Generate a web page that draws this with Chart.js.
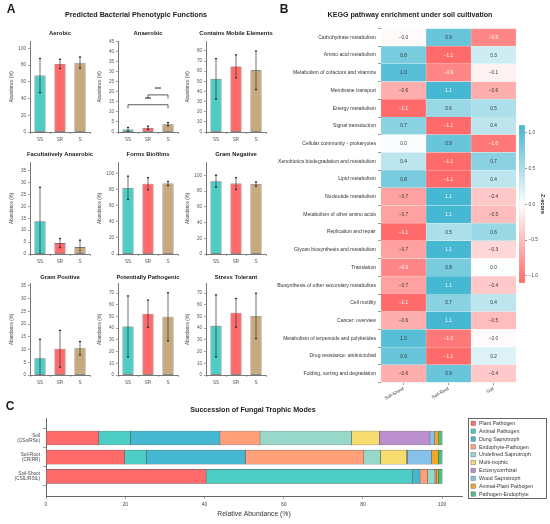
<!DOCTYPE html>
<html>
<head>
<meta charset="utf-8">
<script src="https://cdn.jsdelivr.net/npm/chart.js@4.4.0/dist/chart.umd.min.js"></script>
<style>
  body { margin: 0; background: #fff; }
  #fig { position: relative; width: 550px; height: 524px; overflow: hidden; background: #fff; }
  #fig canvas { position: absolute; }
</style>
</head>
<body>
<div id="fig"></div>
<script>
// ---- Panel A: predicted bacterial phenotypes ----
const groups = ["SS", "SR", "S"];
const groupColors = ["#4ECDC4", "#FF6B6B", "#C8A97E"];
const traitNames = [
  "Aerobic", "Anaerobic", "Contains Mobile Elements",
  "Facultatively Anaerobic", "Forms Biofilms", "Gram Negative",
  "Gram Positive", "Potentially Pathogenic", "Stress Tolerant"
];
const traitMeans = [
  [67.5, 81.5, 83], [1.3, 2.1, 3.9], [52.4, 64.7, 60.8],
  [13.8, 4.6, 2.9], [82, 87, 87.3], [92.5, 89.5, 89],
  [6.6, 10.3, 10.5], [41.5, 52.4, 49.8], [42, 53.2, 50.5]
];
const traitSd = [
  [20.5, 5.5, 6.8], [1.0, 0.8, 0.8], [20, 11.3, 19],
  [14.2, 1.9, 2.9], [14.4, 7.5, 2.5], [7.6, 7.6, 2.7],
  [7.4, 7.2, 2.6], [26.1, 11.6, 20.6], [26.5, 12.2, 19.4]
];
const traitYMax = [108, 45, 89, 38.3, 113, 116, 35.8, 78, 78];
const traitYStep = [20, 5, 10, 5, 20, 20, 5, 10, 10];
// significance brackets on the Anaerobic panel (group index from/to, bracket height)
const anaerobicSig = [
  { from: 0, to: 2, level: 13.6, label: "***" },
  { from: 1, to: 2, level: 18.5, label: "***" }
];

// ---- Panel B: KEGG z-scores ----
const pathways = [
  "Carbohydrate metabolism", "Amino acid metabolism", "Metabolism of cofactors and vitamins",
  "Membrane transport", "Energy metabolism", "Signal transduction",
  "Cellular community - prokaryotes", "Xenobiotics biodegradation and metabolism", "Lipid metabolism",
  "Nucleotide metabolism", "Metabolism of other amino acids", "Replication and repair",
  "Glycan biosynthesis and metabolism", "Translation", "Biosynthesis of other secondary metabolites",
  "Cell motility", "Cancer: overview", "Metabolism of terpenoids and polyketides",
  "Drug resistance: antimicrobial", "Folding, sorting and degradation"
];
const cultivations = ["Soil-Shoot", "Soil-Root", "Soil"];
const zShoot = [-0.04, 0.8, 1.0, -0.6, -1.1, 0.7, 0.03, 0.4, 0.8, -0.7, -0.7, -1.1, -0.7, -0.9, -0.7, -1.1, -0.6, 1.0, 0.9, -0.6];
const zRoot = [0.9, -1.1, -0.9, 1.1, 0.6, -1.1, 0.9, -1.1, -1.1, 1.1, 1.1, 0.5, 1.1, 0.8, 1.1, 0.7, 1.1, -1.0, -1.1, 0.9];
const zSoil = [-0.9, 0.3, -0.1, -0.6, 0.5, 0.4, -1.0, 0.7, 0.4, -0.4, -0.5, 0.6, -0.3, 0.02, -0.4, 0.4, -0.5, -0.03, 0.2, -0.4];
const zTicks = [-1.0, -0.5, 0.0, 0.5, 1.0];
const zMin = -1.1, zMax = 1.11;

// ---- Panel C: fungal trophic modes ----
const fungalRows = [["Soil", "(CSo/RSo)"], ["Soil-Root", "(CR/RR)"], ["Soil-Shoot", "(CSIL/RSIL)"]];
const trophicModes = [
  "Plant Pathogen", "Animal Pathogen", "Dung Saprotroph", "Endophyte-Pathogen", "Undefined Saprotroph",
  "Multi-trophic", "Ectomycorrhizal", "Wood Saprotroph", "Animal-Plant Pathogen", "Pathogen-Endophyte"
];
const trophicColors = ["#FF6B6B", "#4ECDC4", "#45B7D1", "#FFA07A", "#98D8C8",
                       "#F7DC6F", "#BB8FCE", "#85C1E9", "#F5A623", "#52BE80"];
const soilShares = [13.3, 8.0, 22.6, 10.1, 23.1, 7.0, 12.8, 1.2, 1.0, 0.9];
const rootShares = [19.8, 5.5, 25.0, 29.9, 4.2, 6.6, 0.2, 6.1, 1.7, 1.0];
const shootShares = [40.4, 52.1, 1.9, 1.9, 1.7, 0.2, 0.1, 0.2, 0.5, 1.0];
const xTicksC = [0, 20, 40, 60, 80, 100];

// ---------------------------------------------------------------
const FONT = "'Liberation Sans', Arial, sans-serif";
Chart.defaults.font.family = FONT;
Chart.defaults.color = "#444";
Chart.defaults.animation = false;
Chart.defaults.responsive = false;
Chart.defaults.plugins.legend.display = false;
Chart.defaults.plugins.tooltip.enabled = false;

const fig = document.getElementById("fig");

const makeCanvas = (left, top, w, h) => {
  const c = document.createElement("canvas");
  c.width = w; c.height = h;
  c.style.left = left + "px"; c.style.top = top + "px";
  c.style.width = w + "px"; c.style.height = h + "px";
  fig.appendChild(c);
  return c;
};

// headings go on one overlay canvas, drawn at the end
const headings = [];
const addText = (txt, cx, cy, size) => headings.push({ txt, cx, cy, size });

const minus = v => (v < 0 ? "\u2212" : "") + Math.abs(v).toFixed(1);

// error bars: mean +/- sd, clipped at zero
const errorBars = {
  id: "errorBars",
  afterDatasetsDraw(chart) {
    const ds = chart.data.datasets[0];
    const y = chart.scales.y;
    const ctx = chart.ctx;
    ctx.save();
    ctx.strokeStyle = "#333";
    chart.getDatasetMeta(0).data.forEach((bar, i) => {
      const m = ds.data[i], s = ds.sd[i];
      const top = y.getPixelForValue(m + s);
      const low = m - s;
      const bot = y.getPixelForValue(Math.max(0, low));
      ctx.lineWidth = 0.7;
      ctx.beginPath(); ctx.moveTo(bar.x, top); ctx.lineTo(bar.x, bot); ctx.stroke();
      ctx.lineWidth = 1.3;
      const caps = low > 0 ? [top, bot] : [top];
      caps.forEach(p => {
        ctx.beginPath(); ctx.moveTo(bar.x - 1.1, p); ctx.lineTo(bar.x + 1.1, p); ctx.stroke();
      });
    });
    ctx.restore();
  }
};

const sigBrackets = items => ({
  id: "sigBrackets",
  afterDatasetsDraw(chart) {
    const { ctx, scales: { x, y } } = chart;
    ctx.save();
    ctx.strokeStyle = "#333"; ctx.fillStyle = "#222"; ctx.lineWidth = 0.8;
    ctx.font = "bold 5px " + FONT;
    ctx.textAlign = "center"; ctx.textBaseline = "middle";
    items.forEach(b => {
      const x1 = x.getPixelForValue(b.from), x2 = x.getPixelForValue(b.to);
      const yh = y.getPixelForValue(b.level);
      ctx.beginPath();
      ctx.moveTo(x1, yh + 3.5); ctx.lineTo(x1, yh); ctx.lineTo(x2, yh); ctx.lineTo(x2, yh + 3.5);
      ctx.stroke();
      ctx.fillText(b.label, (x1 + x2) / 2, yh - 5.5);
    });
    ctx.restore();
  }
});

// ---------------- Panel A ----------------
addText("A", 11, 10, 12);
addText("Predicted Bacterial Phenotypic Functions", 136, 15, 7.2);

const colAxisX = [30, 118, 206];
const rowTop = [41, 162, 283];
const rowBottom = [132, 254, 375];
const rowTitleY = [33, 154, 277];

traitNames.forEach((name, t) => {
  const r = Math.floor(t / 3), c = t % 3;
  const plotH = rowBottom[r] - rowTop[r];
  const cv = makeCanvas(colAxisX[c] - 30, rowTop[r] - 4, 92, plotH + 18);
  addText(name, colAxisX[c] + 30, rowTitleY[r], 5.9);

  const plugins = [errorBars];
  if (name === "Anaerobic") plugins.push(sigBrackets(anaerobicSig));

  new Chart(cv, {
    type: "bar",
    data: {
      labels: groups,
      datasets: [{
        data: traitMeans[t],
        sd: traitSd[t],
        backgroundColor: groupColors,
        borderColor: "#333",
        borderWidth: 0.6,
        borderSkipped: false,
        barPercentage: 0.55,
        categoryPercentage: 1
      }]
    },
    options: {
      layout: { padding: { top: 4, right: 2, left: 0, bottom: 0 } },
      scales: {
        x: {
          grid: { display: true, drawOnChartArea: false, tickLength: 2, color: "#666", lineWidth: 0.6 },
          border: { display: true, color: "#555", width: 0.8 },
          ticks: { font: { size: 4.6 }, color: "#555", padding: 2.5 },
          afterFit: s => { s.height = 14; }
        },
        y: {
          min: 0,
          max: traitYMax[t],
          grid: { display: true, drawOnChartArea: false, tickLength: 2, color: "#666", lineWidth: 0.6 },
          border: { display: true, color: "#555", width: 0.8 },
          ticks: { stepSize: traitYStep[t], includeBounds: false, autoSkip: false,
                   font: { size: 4.6 }, color: "#555", padding: 2 },
          title: { display: true, text: "Abundance (%)", font: { size: 4.5 }, color: "#444",
                   padding: { top: 9, bottom: 0 } },
          afterFit: s => { s.width = 30; }
        }
      }
    },
    plugins
  });
});

// ---------------- Panel B ----------------
addText("B", 284, 10, 12);
addText("KEGG pathway enrichment under soil cultivation", 410, 15, 7.1);

const zColor = v => {
  const t = v < 0 ? Math.min(1, -v / 1.1) : Math.min(1, v / 1.11);
  const end = v < 0 ? [255, 107, 107] : [69, 183, 209];
  const c = end.map(e => Math.round(255 + (e - 255) * t));
  return `rgb(${c[0]},${c[1]},${c[2]})`;
};

const cellLabels = {
  id: "cellLabels",
  afterDatasetsDraw(chart) {
    const ctx = chart.ctx;
    ctx.save();
    ctx.font = "4.7px " + FONT;
    ctx.textAlign = "center"; ctx.textBaseline = "middle";
    chart.data.datasets.forEach((ds, k) => {
      chart.getDatasetMeta(k).data.forEach((bar, i) => {
        const v = ds.zValues[i];
        ctx.fillStyle = (v <= -0.85 || v >= 1.05) ? "#fff" : "#333";
        ctx.fillText(minus(v), (bar.x + bar.base) / 2, bar.y + 0.3);
      });
    });
    ctx.restore();
  }
};

const zCols = [zShoot, zRoot, zSoil];
const heatCanvas = makeCanvas(270, 20, 250, 385);
new Chart(heatCanvas, {
  type: "bar",
  data: {
    labels: pathways,
    datasets: cultivations.map((name, k) => ({
      label: name,
      data: pathways.map(() => 1),
      zValues: zCols[k],
      backgroundColor: zCols[k].map(zColor),
      borderColor: "rgba(255,255,255,0.6)",
      borderWidth: 0.4,
      borderSkipped: false,
      barPercentage: 1,
      categoryPercentage: 1
    }))
  },
  options: {
    indexAxis: "y",
    layout: { padding: { top: 8.5, right: 4, left: 0, bottom: 0 } },
    scales: {
      x: {
        type: "linear", min: 0, max: 3, stacked: true,
        afterBuildTicks: s => { s.ticks = [0.5, 1.5, 2.5].map(v => ({ value: v })); },
        grid: { display: true, drawOnChartArea: false, tickLength: 2.5, color: "#555", lineWidth: 0.6 },
        border: { display: false },
        ticks: { callback: v => cultivations[Math.floor(v)], minRotation: 30, maxRotation: 30,
                 autoSkip: false, font: { size: 4.6 }, color: "#333", padding: 1 },
        afterFit: s => { s.height = 22.5; }
      },
      y: {
        stacked: true,
        grid: { display: true, drawOnChartArea: false, tickLength: 3, color: "#555", lineWidth: 0.6 },
        border: { display: false },
        ticks: { autoSkip: false, font: { size: 5.05 }, color: "#333", padding: 2 },
        afterFit: s => { s.width = 111; }
      }
    }
  },
  plugins: [cellLabels]
});

// colorbar
const cbCanvas = makeCanvas(505, 112, 45, 185);
new Chart(cbCanvas, {
  type: "bar",
  data: {
    labels: ["Z-score"],
    datasets: [{
      data: [[zMin, zMax]],
      backgroundColor: c => {
        const ch = c.chart;
        if (!ch.chartArea) return "#fff";
        const y = ch.scales.y;
        const g = ch.ctx.createLinearGradient(0, y.getPixelForValue(zMin), 0, y.getPixelForValue(zMax));
        g.addColorStop(0, zColor(zMin));
        g.addColorStop((0 - zMin) / (zMax - zMin), "#fff");
        g.addColorStop(1, zColor(zMax));
        return g;
      },
      borderColor: "#bbb",
      borderWidth: 0.5,
      borderSkipped: false,
      barPercentage: 1,
      categoryPercentage: 1
    }]
  },
  options: {
    layout: { padding: { top: 13, left: 14, right: 0, bottom: 14 } },
    scales: {
      x: { display: false },
      y: {
        position: "right", min: zMin, max: zMax,
        afterBuildTicks: s => { s.ticks = zTicks.map(v => ({ value: v })); },
        grid: { display: true, drawOnChartArea: false, tickLength: 2, color: "#555", lineWidth: 0.6 },
        border: { display: false },
        ticks: { callback: v => minus(v), font: { size: 4.7 }, color: "#444", padding: 1.5 },
        title: { display: true, text: "Z-score", font: { size: 5.5, weight: "bold" }, color: "#222",
                 padding: { top: 4.5, bottom: 0 } },
        afterFit: s => { s.width = 25; }
      }
    }
  }
});

// ---------------- Panel C ----------------
addText("C", 10, 407, 12);
addText("Succession of Fungal Trophic Modes", 253, 410, 7.1);

const boxLegend = {
  id: "boxLegend",
  afterDraw(chart) {
    const ctx = chart.ctx;
    const x0 = 468, y0 = 8, w = 79, h = 81, step = 7.86;
    ctx.save();
    ctx.fillStyle = "#fff";
    ctx.fillRect(x0, y0, w, h);
    ctx.strokeStyle = "#555"; ctx.lineWidth = 0.9;
    ctx.strokeRect(x0 + 0.5, y0 + 0.5, w - 1, h - 1);
    ctx.font = "5.3px " + FONT;
    ctx.textBaseline = "middle"; ctx.textAlign = "left";
    chart.data.datasets.forEach((ds, i) => {
      const cy = y0 + 5.3 + i * step;
      ctx.fillStyle = ds.backgroundColor;
      ctx.fillRect(471, cy - 2.2, 4.4, 4.4);
      ctx.strokeStyle = "#555"; ctx.lineWidth = 0.4;
      ctx.strokeRect(471, cy - 2.2, 4.4, 4.4);
      ctx.fillStyle = "#333";
      ctx.fillText(ds.label, 479, cy + 0.2);
    });
    ctx.restore();
  }
};

const sharesByRow = [soilShares, rootShares, shootShares];
const fungCanvas = makeCanvas(0, 410, 550, 114);
new Chart(fungCanvas, {
  type: "bar",
  data: {
    datasets: trophicModes.map((mode, k) => ({
      label: mode,
      data: sharesByRow.map((row, i) => ({ y: i, x: row[k] })),
      backgroundColor: trophicColors[k],
      borderColor: "#555",
      borderWidth: 0.5,
      borderSkipped: false,
      barThickness: 14
    }))
  },
  options: {
    indexAxis: "y",
    layout: { padding: { top: 8, right: 88, left: 0, bottom: 0 } },
    scales: {
      x: {
        type: "linear", min: 0, max: 105, stacked: true,
        afterBuildTicks: s => { s.ticks = xTicksC.map(v => ({ value: v })); },
        grid: { display: true, drawOnChartArea: false, tickLength: 3, color: "#666", lineWidth: 0.6 },
        border: { display: true, color: "#555", width: 0.9 },
        ticks: { font: { size: 5 }, color: "#444", padding: 3 },
        title: { display: true, text: "Relative Abundance (%)", font: { size: 6.8 }, color: "#333",
                 padding: { top: 0, bottom: 5.5 } },
        afterFit: s => { s.height = 28; }
      },
      y: {
        type: "linear", reverse: true, min: -0.35, max: 2.35, stacked: true,
        afterBuildTicks: s => { s.ticks = [0, 1, 2].map(v => ({ value: v })); },
        grid: { display: true, drawOnChartArea: false, tickLength: 3, color: "#666", lineWidth: 0.6 },
        border: { display: true, color: "#555", width: 0.9 },
        ticks: { callback: v => fungalRows[v], font: { size: 4.7, lineHeight: 1.15 }, color: "#444", padding: 3 },
        afterFit: s => { s.width = 46; }
      }
    }
  },
  plugins: [boxLegend]
});

// ---------------- headings ----------------
const headCanvas = makeCanvas(0, 0, 550, 524);
headCanvas.style.pointerEvents = "none";
const hctx = headCanvas.getContext("2d");
hctx.fillStyle = "#1a1a1a";
hctx.textAlign = "center";
hctx.textBaseline = "middle";
headings.forEach(h => {
  hctx.font = `bold ${h.size}px ${FONT}`;
  hctx.fillText(h.txt, h.cx, h.cy);
});
</script>
</body>
</html>
